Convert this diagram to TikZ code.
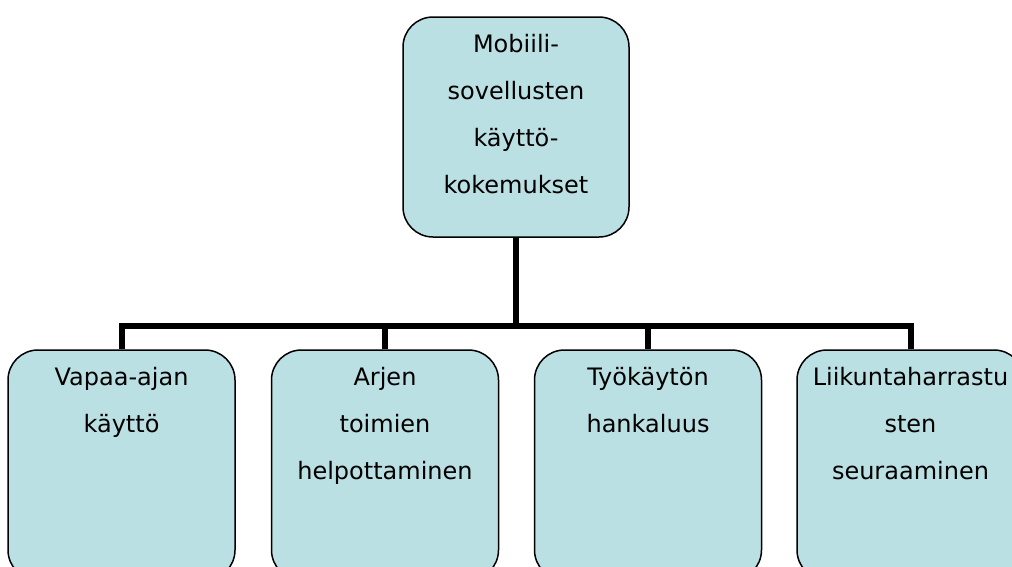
\documentclass[tikz,border=0pt]{standalone}
\usepackage{fontspec}
\setmainfont{DejaVu Sans}
\usetikzlibrary{calc}
\definecolor{boxfill}{RGB}{187,224,227}
\tikzset{
  box/.style={draw=black, line width=1.5pt, fill=boxfill, rounded corners=30pt, inner sep=0pt},
  txt/.style={anchor=north, inner sep=0pt, align=center, font=\fontsize{24}{47}\selectfont},
  conn/.style={draw=black, line width=6pt}
}
\newcommand{\fstrut}{\rule{0pt}{36pt}}
\begin{document}
\begin{tikzpicture}[x=1pt,y=-1pt]
\useasboundingbox (0,0) rectangle (1012,566);
\clip (0,0) rectangle (1012,566);
\node[box, minimum width=226pt, minimum height=220pt] (top) at (516,127) {};
\node[txt] (toptxt) at (top.north) {\fstrut Mobiili-\\sovellusten\\käyttö-\\kokemukset};
\foreach \n/\x in {b1/121.5, b2/385, b3/648, b4/910.5}{
  \node[box, minimum width=227pt, minimum height=230pt] (\n) at (\x,465) {};
}
\node[txt] (t1) at (b1.north) {\fstrut Vapaa-ajan\\käyttö};
\node[txt] (t2) at (b2.north) {\fstrut Arjen\\toimien\\helpottaminen};
\node[txt] (t3) at (b3.north) {\fstrut Työkäytön\\hankaluus};
\node[txt] (t4) at (b4.north) {\fstrut Liikuntaharrastu\\sten\\seuraaminen};
\coordinate (bar) at (516,326);
\draw[conn] (top.south) -- (bar);
\foreach \n in {b1,b2,b3,b4}{
  \draw[conn] (\n.north) -- (\n.north |- bar);
}
\draw[conn, line cap=rect] (b1.north |- bar) -- (b4.north |- bar);
\end{tikzpicture}
\end{document}
